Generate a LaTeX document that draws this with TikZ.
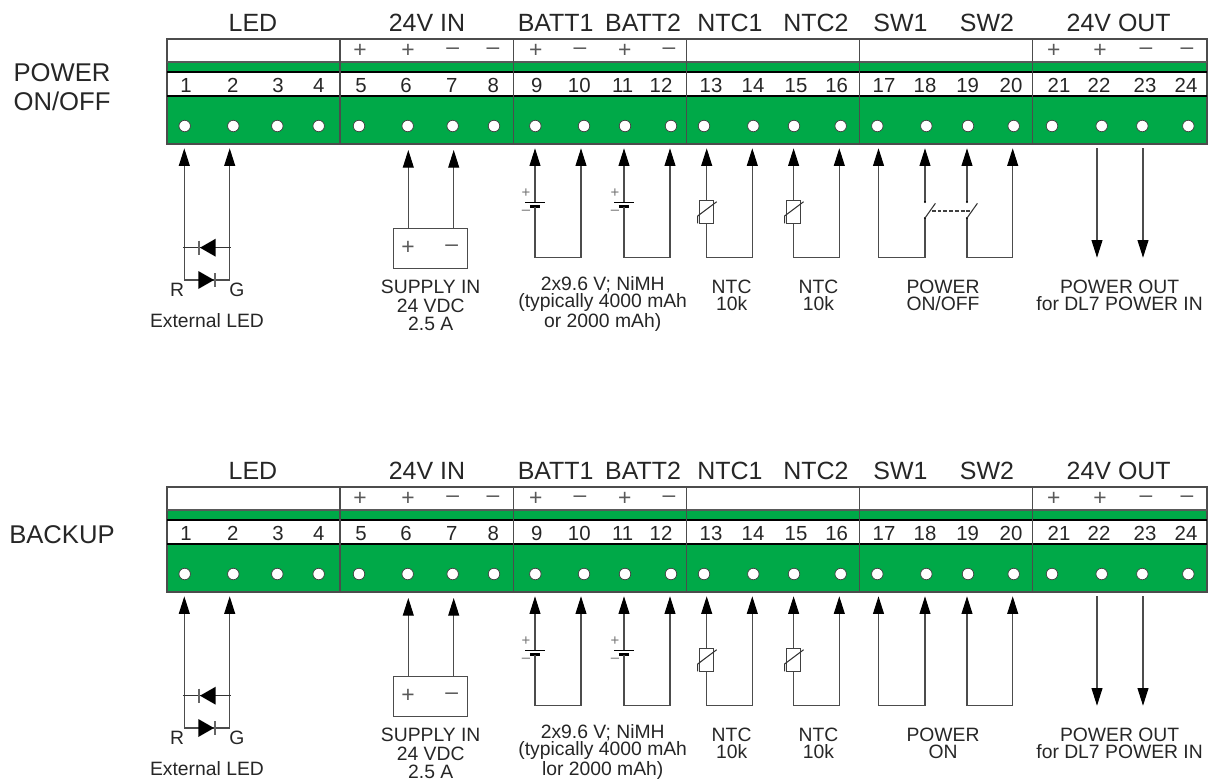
\documentclass[tikz,border=0pt]{standalone}
\usepackage{fontspec}
\setmainfont{Liberation Sans}
\usetikzlibrary{arrows.meta}

\definecolor{termgreen}{RGB}{0,169,72}
\definecolor{inkgray}{RGB}{38,38,38}

\tikzset{
	title/.style={text=inkgray,inner sep=0pt,font=\fontsize{14.2pt}{16pt}\selectfont},
	sidetitle/.style={text=inkgray,inner sep=0pt,align=center,font=\fontsize{14.6pt}{16.3pt}\selectfont},
	pinnum/.style={text=inkgray,inner sep=0pt,text height=8.3pt,text depth=0pt,font=\fontsize{11.6pt}{13pt}\selectfont},
	polarity/.style={text=black!65,inner sep=0pt,font=\fontsize{13pt}{13pt}\selectfont},
	smallsign/.style={text=black!55,inner sep=0pt,font=\fontsize{8.5pt}{8.5pt}\selectfont},
	caption/.style={text=inkgray,inner sep=0pt,align=center,font=\fontsize{11pt}{10pt}\selectfont},
	hole/.style={circle,draw=black!75,fill=white,line width=0.4pt,inner sep=0pt,minimum size=0.23cm},
	wire/.style={draw=black!70,line width=0.6pt},
	pintip/.style={-{Triangle[length=10pt,width=6.2pt,black]}},
	ntcbox/.style={rectangle,draw=black!75,fill=white,line width=0.6pt,inner sep=0pt,minimum width=0.29cm,minimum height=0.45cm},
	supplybox/.style={rectangle,draw=black!70,line width=0.6pt,inner sep=0pt,minimum width=1.48cm,minimum height=0.81cm},
}

% #1 name prefix, #2 y where the wires of 18 and 19 stop, #3 y where they go on
\newcommand{\terminalrow}[3]{
	\fill[termgreen] (167,62) rectangle (1207,72);
	\fill[termgreen] (167,96) rectangle (1207,144);
	\draw[black!70,line width=0.7pt] (167,39) rectangle (1207,144);
	\draw[black!65,line width=0.6pt] (167,62) -- (1207,62);
	\draw[black,line width=0.6pt] (167,72) -- (1207,72);
	\draw[black,line width=0.6pt] (167,96) -- (1207,96);
	\foreach \x in {340,513.3,686.7,859.5,1032.7}{
		\draw[black!70,line width=0.7pt] (\x,39) -- (\x,144);
	}

	\foreach \n/\x/\t in {led/253/LED, in/427/24V IN, batta/555.7/BATT1, battb/643/BATT2, ntca/730/NTC1, ntcb/816/NTC2, swa/900.5/SW1, swb/987/SW2, out/1118.7/24V OUT}{
		\node[title] (#1title\n) at (\x,22.7) {\t};
	}
	\foreach \n/\x/\s in {5/360/+, 6/408/+, 7/452.7/–, 8/493/–, 9/535.7/+, 10/580/–, 11/624.7/+, 12/669/–, 21/1053.7/+, 22/1100/+, 23/1146/–, 24/1187/–}{
		\node[polarity] (#1sign\n) at (\x,51) {\s};
	}
	\foreach \n/\x in {1/186, 2/232.7, 3/278, 4/318.7, 5/361, 6/406, 7/451.7, 8/493.3, 9/536.7, 10/579.3, 11/622.7, 12/661, 13/711, 14/753, 15/796, 16/836.7, 17/884, 18/925, 19/967.7, 20/1011, 21/1059, 22/1099, 23/1145, 24/1186}{
		\node[pinnum] (#1num\n) at (\x,85) {\n};
	}
	\foreach \n/\x in {1/184.7, 2/233.3, 3/277.3, 4/318.7, 5/359, 6/407.7, 7/452.7, 8/494, 9/535.3, 10/584, 11/625, 12/671, 13/704, 14/753.3, 15/794, 16/840.7, 17/877.3, 18/926.3, 19/968, 20/1013.7, 21/1052, 22/1101.7, 23/1142.3, 24/1188.3}{
		\node[hole] (#1hole\n) at (\x,126) {};
	}

	% wires up to the terminals
	\foreach \n/\x/\e/\p in {1/184.3/280/148.3, 2/229.7/280/148.3, 6/408.3/228.3/150, 7/453.7/228.3/150, 9/535/202.3/148.3, 10/581/257.7/148.3, 11/624/202.3/148.3, 12/670/257.7/148.3, 13/706.7/201/148.3, 14/752.3/257.7/148.3, 15/793.6/201/148.3, 16/839.3/257.7/148.3, 17/878.5/257.7/148.3, 18/925/#2/148.3, 19/967/#2/148.3, 20/1012.7/257.7/148.3}{
		\coordinate (#1pin\n) at (\x,\p);
		\coordinate (#1end\n) at (\x,\e);
		\draw[wire,pintip] (#1end\n) -- (#1pin\n);
	}
	\foreach \n/\x in {22/1097, 23/1143}{
		\coordinate (#1pin\n) at (\x,148.3);
		\coordinate (#1end\n) at (\x,257.7);
		\draw[wire,pintip] (#1pin\n) -- (#1end\n);
	}

	% external led
	\draw[wire] (#1end1) -- (#1end2);
	\coordinate (#1leda) at (183,247.7);
	\coordinate (#1ledb) at (231,247.7);
	\draw[black!80,line width=0.6pt] (#1leda) -- (#1ledb);
	\fill[black] (200,247.7) -- (215.7,238.7) -- (215.7,256.7) -- cycle;
	\draw[black!60,line width=0.6pt] (199,240.7) -- (199,254.7);
	\fill[black] (214,280) -- (198.3,271) -- (198.3,289) -- cycle;
	\draw[black!60,line width=0.6pt] (215,273) -- (215,287);
	\node[caption] (#1ledr) at (177,290) {R};
	\node[caption] (#1ledg) at (237,290) {G};
	\node[caption] (#1ledtext) at (207,321) {External LED};

	% supply
	\node[supplybox] (#1supply) at (430.7,248.5) {};
	\node[polarity] (#1supplyp) at (408,248) {+};
	\node[polarity] (#1supplym) at (451.7,248) {–};
	\node[caption] (#1supplytext) at (430.7,305) {SUPPLY IN\\[1pt]24 VDC\\2.5 A};

	% batteries
	\foreach \n/\m/\x in {9/10/535, 11/12/624}{
		\draw[black,line width=0.8pt] (\x-10,202.3) -- (\x+10,202.3);
		\draw[black,line width=1.5pt] (\x-5.2,206.7) -- (\x+5.2,206.7);
		\coordinate (#1low\n) at (\x,206.7);
		\draw[wire] (#1low\n) |- (#1end\m);
		\node[smallsign] (#1plus\n) at (\x-9,193.3) {+};
		\node[smallsign] (#1minus\n) at (\x-9,212.7) {–};
	}
	\node[caption] (#1batttext) at (602.7,304) {2x9.6 V; NiMH\\(typically 4000 mAh\\\batttail};

	% ntc
	\foreach \n/\m/\x in {13/14/706.7, 15/16/793.6}{
		\node[ntcbox] (#1ntc\n) at (\x,212) {};
		\draw[wire] (#1ntc\n.south) |- (#1end\m);
		\draw[black!80,line width=0.6pt] (\x-9,223.3) -- (\x-9,216) -- (\x+10,201.7);
		\node[caption] (#1ntctext\n) at (\x+24.9,295.3) {NTC\\10k};
	}

	% switches
	\foreach \n/\m/\x in {18/17/925, 19/20/967}{
		\coordinate (#1sw\n) at (\x,#3);
		\draw[wire] (#1sw\n) |- (#1end\m);
	}

	\node[caption] (#1outtext) at (1119.6,295.3) {POWER OUT\\for DL7 POWER IN};
}

\begin{document}
\begin{tikzpicture}[
		x={(0.02cm,0cm)},
		y={(0cm,-0.02cm)},
	]
	\useasboundingbox (0,0) rectangle (1217,781);

	% power on/off
	\def\batttail{or 2000 mAh)}
	\terminalrow{a}{202}{218}
	\node[sidetitle] (atitle) at (62,87.3) {POWER\\ON/OFF};
	\node[caption] (aswtext) at (943,295.3) {POWER\\ON/OFF};
	\foreach \n/\x in {18/925, 19/967}{
		\fill[black] (\x,202) circle (1.2);
		\fill[black] (\x,218) circle (1.2);
		\draw[black!80,line width=0.6pt] (\x,218) -- (\x+10.4,203.3);
	}
	\coordinate (aswa) at (931.7,211);
	\coordinate (aswb) at (970.7,211);
	\draw[black!75,line width=0.6pt,dash pattern=on 2.2pt off 1.1pt] (aswa) -- (aswb);

	% backup
	\begin{scope}[shift={(0,448)}]
		\def\batttail{lor 2000 mAh)}
		\terminalrow{b}{230}{230}
		\node[sidetitle] (btitle) at (62,87) {BACKUP};
		\node[caption] (bswtext) at (943,295.3) {POWER\\ON};
	\end{scope}
\end{tikzpicture}
\end{document}
